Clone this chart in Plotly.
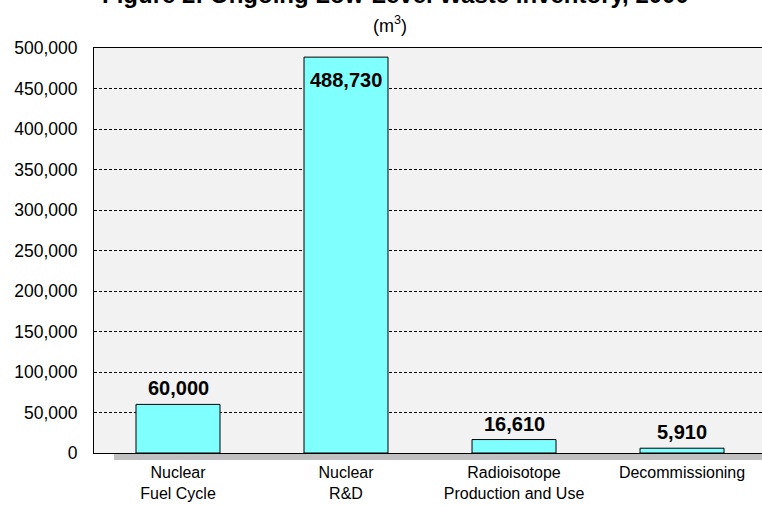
import plotly.graph_objects as go

categories = ["Nuclear<br>Fuel Cycle", "Nuclear<br>R&D", "Radioisotope<br>Production and Use", "Decommissioning"]
volumes = [60000, 488730, 16610, 5910]
y_ticks = [0, 50000, 100000, 150000, 200000, 250000, 300000, 350000, 400000, 450000, 500000]

title_text = "Figure 2: Ongoing Low-Level Waste Inventory, 2000"
subtitle_text = "(m<sup>3</sup>)"

FONT = "Arial, Liberation Sans, sans-serif"

fig = go.Figure()
fig.add_trace(go.Bar(
    x=categories, y=volumes,
    marker=dict(color="#80FFFF", line=dict(color="#000000", width=1)),
    hoverinfo="skip",
))

ymax = max(y_ticks)
annotations = []
for c, v in zip(categories, volumes):
    inside = v > 0.9 * ymax
    annotations.append(dict(
        x=c, y=v, xref="x", yref="y",
        text="<b>{:,}</b>".format(v),
        showarrow=False,
        yanchor="top" if inside else "bottom",
        yshift=-10 if inside else 3,
        font=dict(family=FONT, size=20, color="#000000"),
    ))

# title (partially clipped at top) and unit subtitle
annotations.append(dict(
    x=0.4506, y=1.0938, xref="paper", yref="paper",
    text="<b>" + title_text + "</b>", showarrow=False,
    xanchor="center", yanchor="bottom",
    font=dict(family=FONT, size=24, color="#000000"),
))
annotations.append(dict(
    x=0.443, y=1.0568, xref="paper", yref="paper",
    text=subtitle_text, showarrow=False,
    xanchor="center", yanchor="middle",
    font=dict(family=FONT, size=18, color="#000000"),
))

fig.update_layout(
    width=762, height=506,
    margin=dict(l=94, r=0, t=48, b=53),
    paper_bgcolor="#FFFFFF",
    plot_bgcolor="#F2F2F2",
    showlegend=False,
    bargap=0.5,
    annotations=annotations,
    shapes=[dict(
        type="rect", xref="paper", yref="paper",
        x0=0.03, x1=1.02, y0=-0.0173, y1=0,
        fillcolor="#C0C0C0", line=dict(width=0), layer="below",
    )],
    font=dict(family=FONT, color="#000000"),
)

fig.update_xaxes(
    range=[-0.5, 3.476],
    showline=True, linecolor="#000000", linewidth=1, mirror=True,
    showgrid=False, ticks="",
    ticklabelstandoff=5,
    tickfont=dict(family=FONT, size=16, color="#000000"),
    automargin=False,
    fixedrange=True,
)
fig.update_yaxes(
    range=[0, ymax],
    tickvals=y_ticks, tickformat=",",
    showline=True, linecolor="#000000", linewidth=1, mirror=False,
    showgrid=True, gridcolor="#000000", gridwidth=1, griddash="3px,2px",
    zeroline=False, ticks="",
    ticklabelstandoff=12,
    tickfont=dict(family=FONT, size=17.5, color="#000000"),
    automargin=False,
    fixedrange=True,
)

fig.write_html("out.html", config={"displayModeBar": False})
